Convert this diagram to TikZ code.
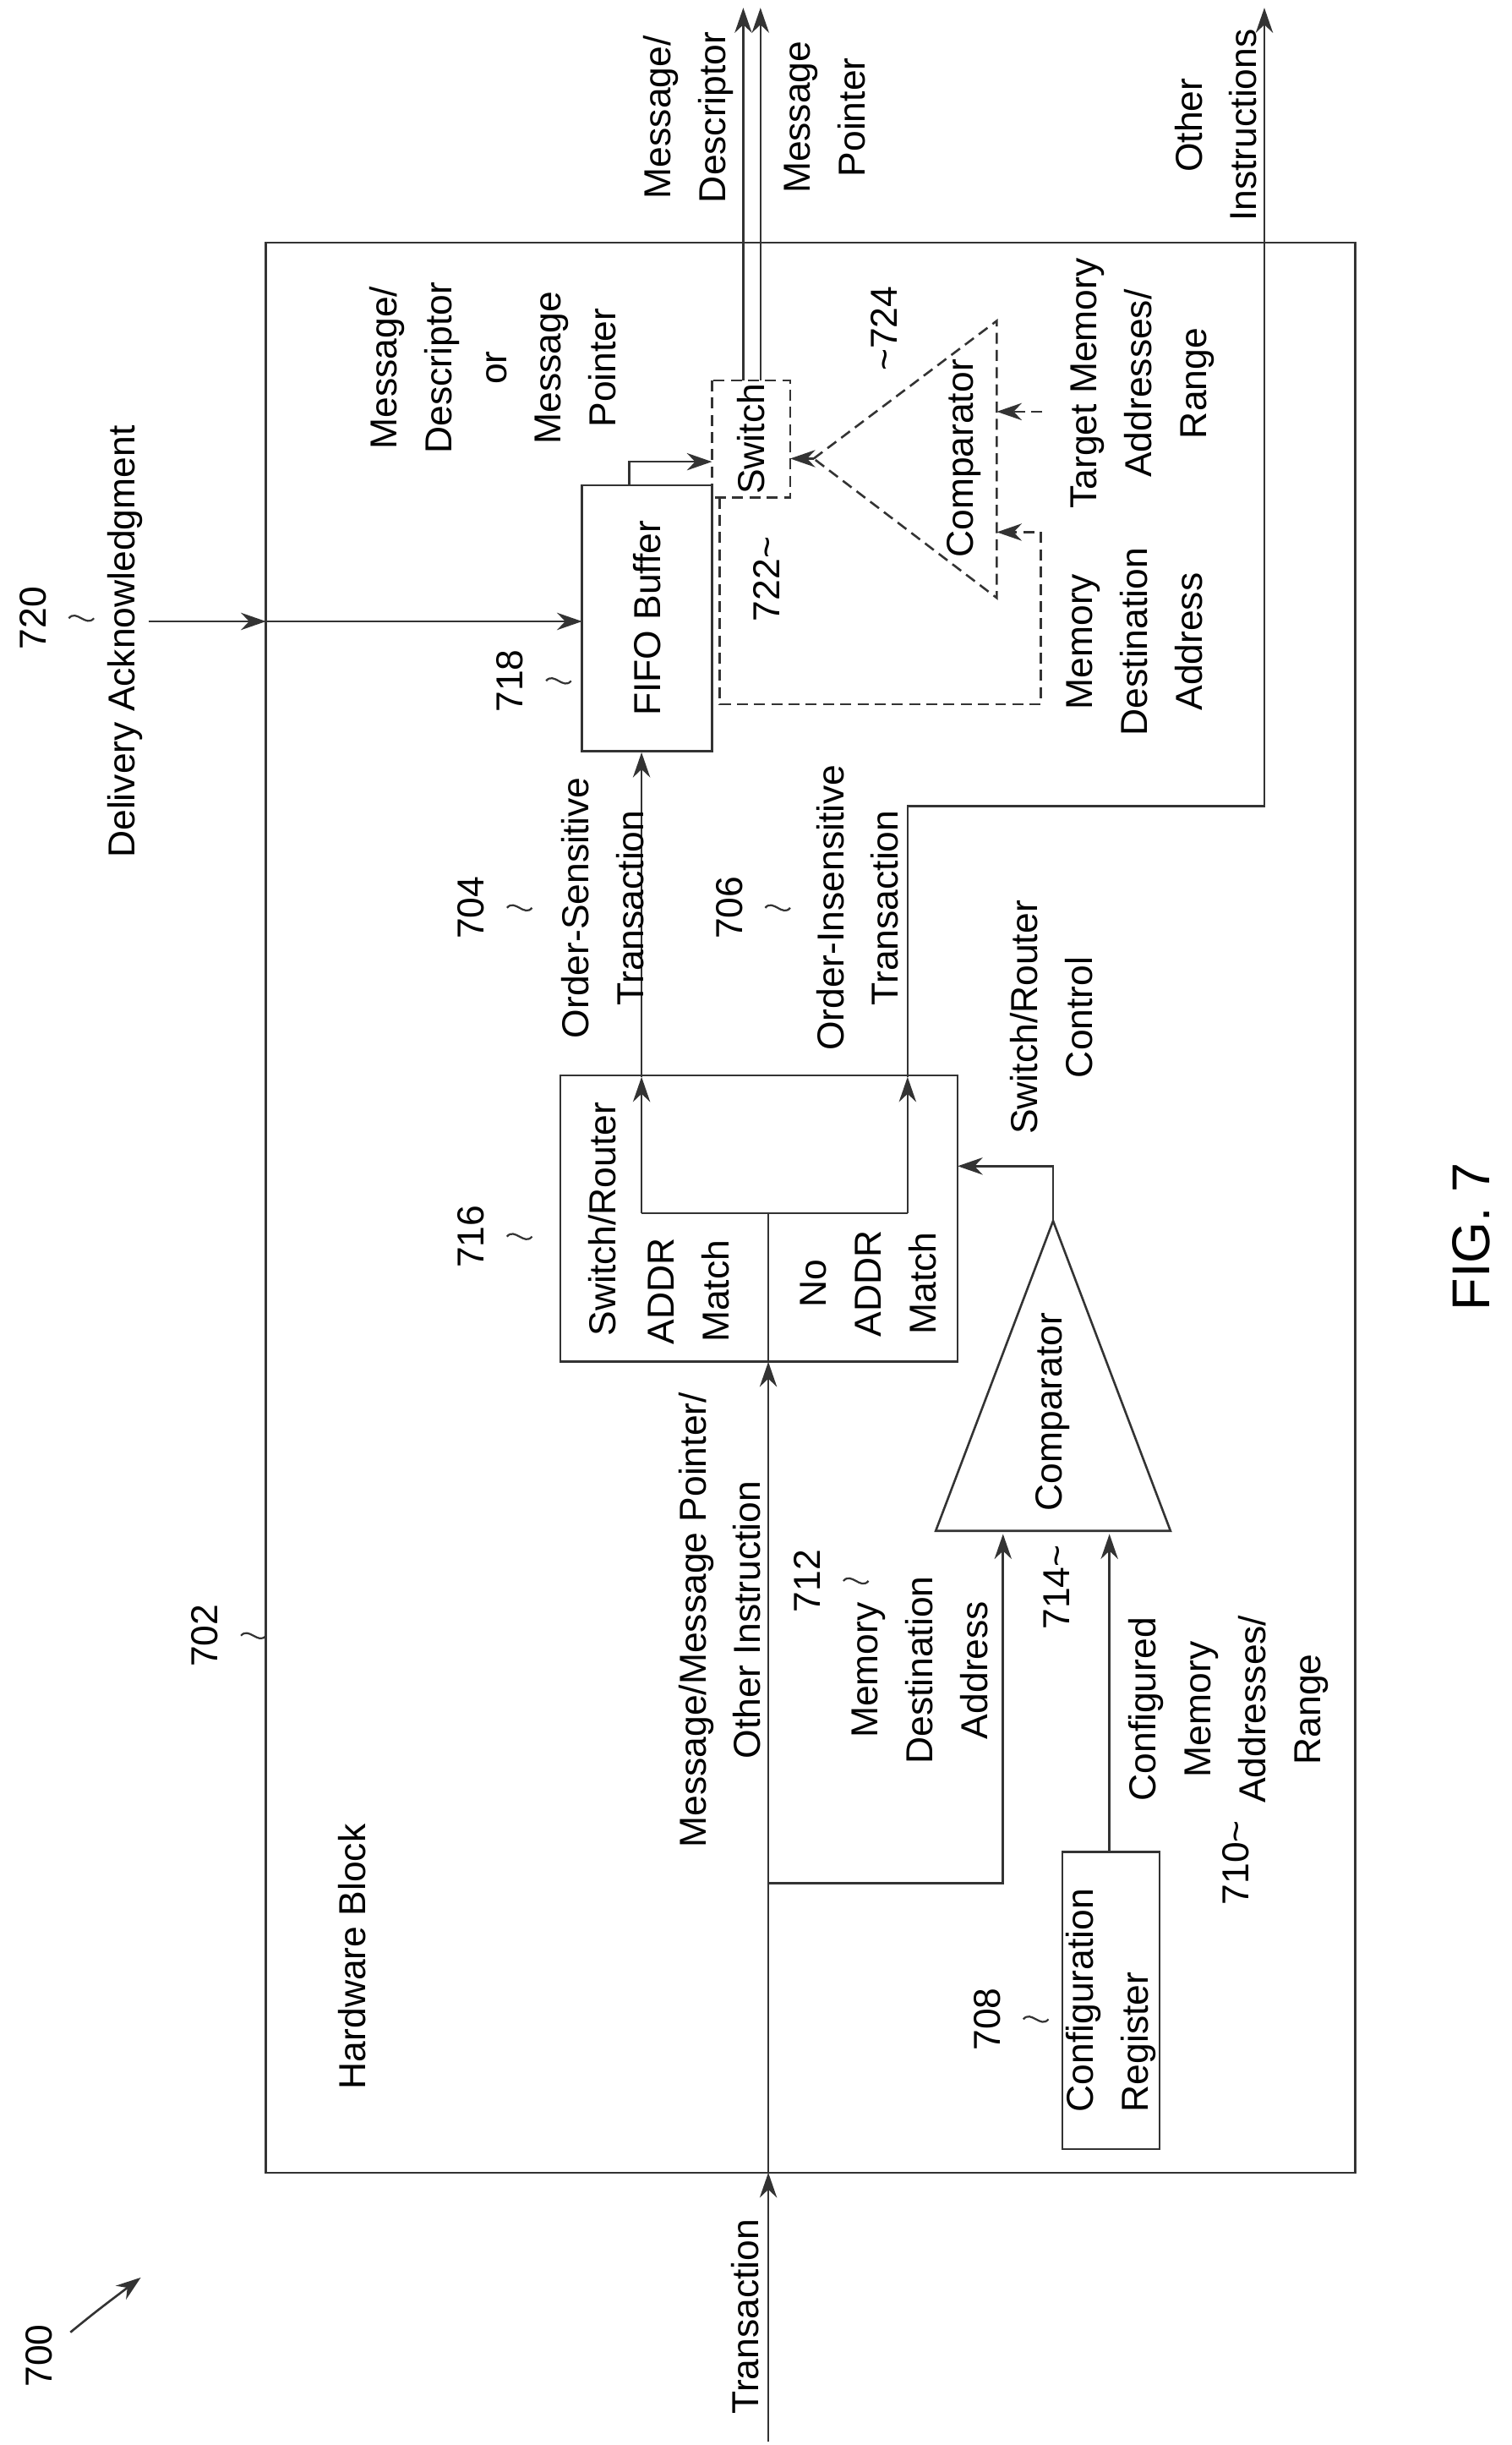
\documentclass[tikz,border=0pt]{standalone}
\usepackage{fontspec}
\setmainfont{Liberation Sans}
\usetikzlibrary{arrows.meta}
\begin{document}
\begin{tikzpicture}[x=1pt,y=1pt,rotate=90,
 every node/.style={transform shape,font=\fontsize{24}{35}\selectfont,align=center,inner sep=0},
 ln/.style={draw=black!80,line width=1.4pt},
 ar/.style={ln,-{Stealth[length=16pt,width=11pt]}},
 box/.style={ln,draw,inner sep=0,minimum width=#1},
 dsh/.style={dashed,dash pattern=on 7pt off 4pt},
 sq/.pic={\draw[line width=1.2pt,black!80] (0,0) .. controls (6,-5) and (-6,-11) .. (0,-16);}]
\useasboundingbox (0,0) rectangle (1562,966);
% boxes
\node[box=1233pt,minimum height=696pt] (hw) at (790.5,448) {};
\node[box=183pt,minimum height=254pt] (sr) at (783.5,481) {};
\node[box=170pt,minimum height=83pt] (fifo) at (1167,552.5) {FIFO Buffer};
\node[box=75pt,minimum height=50pt,dsh] (sw) at (1281.5,486) {Switch};
\node[box=190pt,minimum height=62pt,align=left] (cfg) at (284,256) {Configuration\\Register};
% comparators
\draw[ln] (584,368) coordinate (c1a) -- (782,293) coordinate (c1o) -- (584,218) -- cycle;
\node (cmp1) at (660,293) {Comparator};
\draw[ln,dsh] (1269,446) coordinate (c2o) -- (1357,329) -- (1180,329) -- cycle;
\node (cmp2) at (1269,350) {Comparator};
% coordinates
\coordinate (tin) at (2,475);
\coordinate (e1) at (174,475);
\coordinate (e2) at (692,475);
\coordinate (br) at (359,475);
% connectors
\draw[ar] (tin) -- (e1);
\draw[ar] (e1) -- (e2);
\draw[ar] (br) -- (359,325) -- (582,325);
\draw[ar] (cfg.east) ++(0,1) -- (582,257);
\draw[ar] (c1o) -- (817,293) -- (817,354);
\draw[ln] (e2) -- (787,475);
\draw[ln] (787,556) -- (787,386);
\draw[ar] (787,556) -- (874,556);
\draw[ar] (787,386) -- (874,386);
\draw[ar] (874,556) -- (fifo.west |- 0,556);
\coordinate (oi) at (1557,158);
\draw[ar] (874,386) -- (1047,386) -- (1047,158) -- (oi);
\coordinate (da) at (1165,871);
\draw[ar] (da) -- (1165,796);
\draw[ar] (1165,796) -- (1165,594);
\draw[ar] (1252,564) -- (1267,564) -- (1267,511);
\draw[ar] (1319,491) -- (1557,491);
\draw[ar] (1319,480) -- (1557,480);
\draw[ar,dsh] (c2o) -- (1269,461);
\draw[ar,dsh] (1299,300) -- (1299,329);
\draw[ar,dsh] (1244,506) -- (1112,506) -- (1112,301) -- (1222,301) -- (1222,329);
% 700 arrow
\draw[ar] (72,921) .. controls (85,905) .. (107,876);
% labels
\node at (57,941) {700};
\node (n720) at (1167,945) {720}; \pic at (1167,922) {sq};
\node at (517,835) {702}; \pic at (517,812) {sq};
\node at (552,450) {712}; \pic at (552,427) {sq};
\node at (982,665) {704}; \pic at (982,642) {sq};
\node at (982,500) {706}; \pic at (982,477) {sq};
\node at (772,665) {716}; \pic at (772,642) {sq};
\node at (1127,640) {718}; \pic at (1127,617) {sq};
\node at (272,335) {708}; \pic at (272,312) {sq};
\node at (548,291) {714\textasciitilde};
\node at (372,176) {710\textasciitilde};
\node at (1192,476) {722\textasciitilde};
\node at (1352,401) {\textasciitilde724};
\node at (82,490) {Transaction};
\node at (1152,886) {Delivery Acknowledgment};
\node at (312,741) {Hardware Block};
\node at (527,506) {Message/Message Pointer/\\Other Instruction};
\node at (495,378) {Memory\\Destination\\Address};
\node at (470,181) {Configured\\Memory\\Addresses/\\Range};
\node at (783,581) {Switch/Router};
\node at (737,526) {ADDR\\Match};
\node at (742,411) {No\\ADDR\\Match};
\node at (912,294) {Switch/Router\\Control};
\node at (982,581) {Order-Sensitive\\Transaction};
\node at (982,418) {Order-Insensitive\\Transaction};
\node at (1327,651) {Message/\\Descriptor\\or\\Message\\Pointer};
\node at (1152,241) {Memory\\Destination\\Address};
\node at (1317,236) {Target Memory\\Addresses/\\Range};
\node at (1487,526) {Message/\\Descriptor};
\node at (1487,439) {Message\\Pointer};
\node at (1482,189) {Other\\Instructions};
\node[font=\fontsize{34}{40}\selectfont] at (772,26) {FIG. 7};
\end{tikzpicture}
\end{document}
